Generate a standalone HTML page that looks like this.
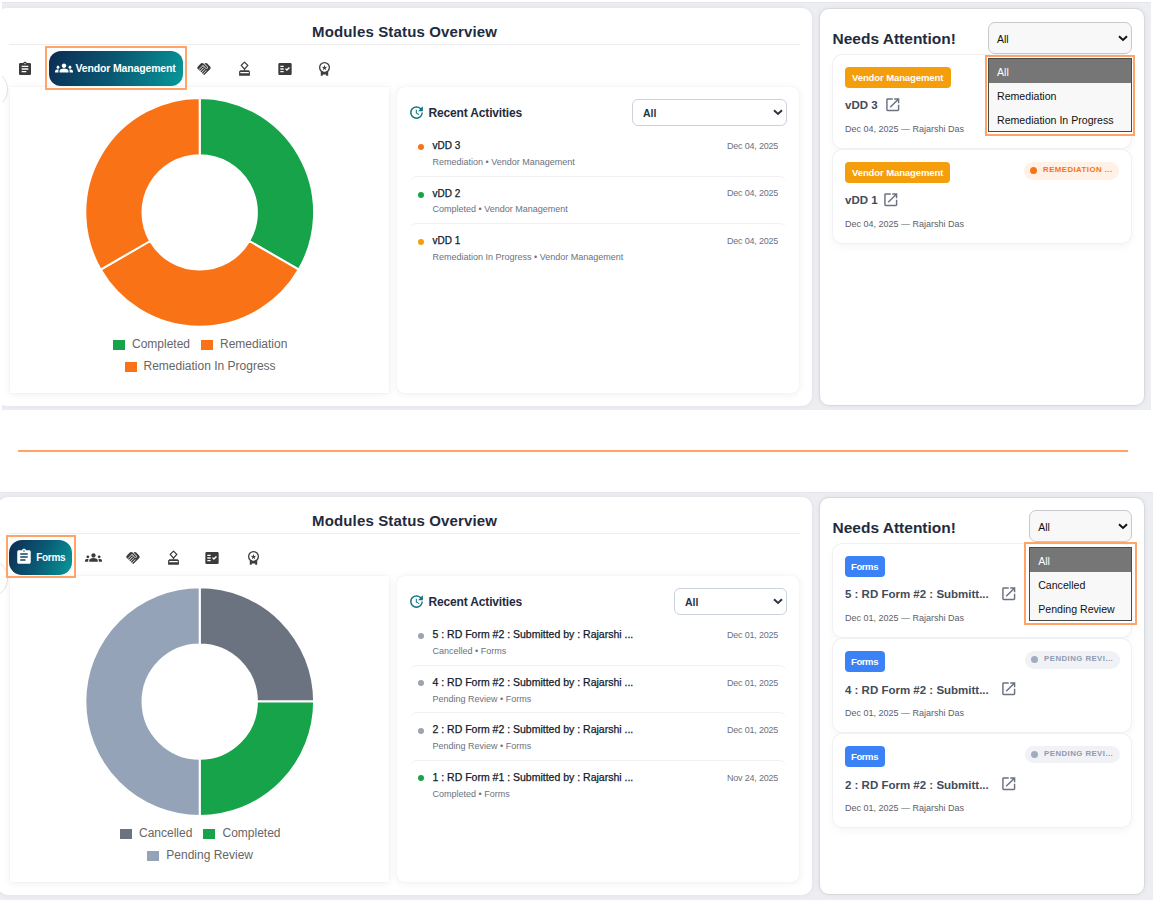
<!DOCTYPE html>
<html><head><meta charset="utf-8"><title>Modules Status Overview</title>
<style>
*{box-sizing:border-box;margin:0;padding:0}
html,body{width:1153px;height:900px;overflow:hidden;background:#fff;font-family:"Liberation Sans",Arial,sans-serif;color:#1e2a3c}
.abs{position:absolute}
.sec{position:absolute;left:0;width:1153px;height:420px}
.gray{position:absolute;background:#edeef2;box-shadow:inset 0 1px 1px rgba(0,0,0,.035)}
.card{position:absolute;background:#fff;border-radius:10px;box-shadow:0 0 5px rgba(40,40,80,.07)}
.title{position:absolute;font-weight:700;font-size:15px;letter-spacing:.15px;color:#1f2b3e;white-space:nowrap;line-height:1}
.divider{position:absolute;left:9px;width:791px;height:1px;background:#ececef}
.ico{position:absolute;fill:#3b3b3b}
.selbtn{position:absolute;border-radius:12px;background:linear-gradient(115deg,#0c2b52 0%,#0a5a74 50%,#079a9b 100%);color:#fff;font-weight:700;font-size:10.5px;letter-spacing:-.15px;white-space:nowrap}
.outline{position:absolute;border:2px solid #ffa466;z-index:5}
.chartbox{position:absolute;background:#fff;border-radius:0;box-shadow:0 0 1px rgba(0,0,0,.10),0 1px 8px rgba(0,0,0,.065)}
.legend{position:absolute;font-family:"Liberation Sans",Arial,sans-serif;font-size:12px;color:#666;white-space:nowrap;line-height:1}
.lbox{position:absolute;width:12px;height:10px}
.panel{position:absolute;background:#fff;border-radius:7px;box-shadow:0 0 1px rgba(0,0,0,.10),0 1px 8px rgba(0,0,0,.065)}
.ptitle{position:absolute;font-weight:700;font-size:12px;letter-spacing:-.16px;color:#1f2b3e;white-space:nowrap;line-height:1}
.sel{position:absolute;border:1px solid #cbd2dc;border-radius:6px;background:#fff}
.sel .v{position:absolute;left:10px;font-weight:700;font-size:10.5px;color:#2a3342;line-height:1}
.row{position:absolute;left:409px;width:378px;height:30px;border-top:1px solid #f1f1f3;border-radius:8px 8px 0 0}
.dot{position:absolute;width:6px;height:6px;border-radius:50%}
.rt{position:absolute;font-size:10px;color:#111a2b;-webkit-text-stroke:.25px #111a2b;white-space:nowrap;line-height:1}
.rs{position:absolute;font-size:9px;color:#6b7280;white-space:nowrap;line-height:1}
.rd{position:absolute;font-size:9px;letter-spacing:-.2px;color:#6b7280;white-space:nowrap;line-height:1;text-align:right;margin-top:-.7px}
.na{position:absolute;font-weight:700;font-size:15.5px;color:#1f2b3e;white-space:nowrap;line-height:1}
.nsel{position:absolute;border:1px solid #c9c9cc;border-radius:7px;background:#f8f8f8}
.nsel .v{position:absolute;left:8px;font-size:10.5px;color:#111;line-height:1}
.icard{position:absolute;left:833px;width:298px;background:#fff;border-radius:9px;box-shadow:0 0 0 1px #f1f1f4,0 4px 10px rgba(0,0,0,.045)}
.badge{position:absolute;border-radius:4px;color:#fff;font-weight:700;font-size:9.5px;white-space:nowrap;line-height:1;letter-spacing:-.1px}
.ct{position:absolute;font-weight:700;font-size:11.5px;color:#434b5a;white-space:nowrap;line-height:1}
.cd{position:absolute;font-size:9px;color:#5b616c;white-space:nowrap;line-height:1}
.pill{position:absolute;border-radius:9px;font-weight:700;font-size:7.8px;letter-spacing:.45px;white-space:nowrap;line-height:1}
.dd{position:absolute;background:#f8f8f8;border:1px solid #4a4a4a}
.dd div{position:absolute;left:0;right:0;height:24px;font-size:10.6px;color:#111;line-height:1}
.dd div span{position:absolute;left:8px;top:8px}
.dd .hl{background:#767676;color:#fff}
</style></head><body>

<!-- ================= TOP SECTION ================= -->
<div class="sec" style="top:0">
  <div class="gray" style="left:2px;top:2px;width:1149px;height:408px;overflow:hidden">
    <div class="card" style="left:-5px;top:6px;width:815px;height:398px"></div>
    <div class="card" style="left:817px;top:6px;width:326px;height:398px;border:1px solid #d9d9dc"></div>
  </div>

  <div class="abs" style="left:2px;top:60px;width:20px;height:60px;overflow:hidden"><div class="abs" style="left:-30.4px;top:11.3px;width:36.4px;height:36.4px;border-radius:50%;background:#fff;border:1px solid #e4e4e6;box-shadow:0 0 2px rgba(0,0,0,.04)"></div></div>
  <div class="title" style="left:312px;top:23.5px">Modules Status Overview</div>
  <div class="divider" style="top:44px"></div>

  <!-- tab icons row -->
  <svg class="ico" style="left:16.5px;top:61px" width="16" height="16" viewBox="0 0 24 24"><path d="M19 3h-4.18C14.4 1.84 13.3 1 12 1s-2.4.84-2.82 2H5c-1.1 0-2 .9-2 2v14c0 1.1.9 2 2 2h14c1.1 0 2-.9 2-2V5c0-1.1-.9-2-2-2zm-7 0c.55 0 1 .45 1 1s-.45 1-1 1-1-.45-1-1 .45-1 1-1zm2 14H7v-2h7v2zm3-4H7v-2h10v2zm0-4H7V7h10v2z"/></svg>
  <div class="outline" style="left:45px;top:46px;width:142px;height:44px"></div>
  <div class="selbtn" style="left:49px;top:51px;width:134px;height:35px">
    <svg class="abs" style="left:6px;top:7.5px;fill:#fff" width="18" height="18" viewBox="0 0 24 24"><path d="M12 12.75c1.63 0 3.07.39 4.24.9 1.08.48 1.76 1.56 1.76 2.73V18H6v-1.61c0-1.18.68-2.26 1.76-2.73 1.17-.52 2.61-.91 4.24-.91zM4 13c1.1 0 2-.9 2-2s-.9-2-2-2-2 .9-2 2 .9 2 2 2zm1.13 1.1c-.37-.06-.74-.1-1.13-.1-.99 0-1.93.21-2.78.58C.48 14.9 0 15.62 0 16.43V18h4.5v-1.61c0-.83.23-1.61.63-2.29zM20 13c1.1 0 2-.9 2-2s-.9-2-2-2-2 .9-2 2 .9 2 2 2zm4 3.43c0-.81-.48-1.53-1.22-1.85-.85-.37-1.79-.58-2.78-.58-.39 0-.76.04-1.13.1.4.68.63 1.46.63 2.29V18H24v-1.57zM12 6c1.66 0 3 1.34 3 3s-1.34 3-3 3-3-1.34-3-3 1.34-3 3-3z"/></svg>
    <span class="abs" style="left:26.5px;top:10.5px">Vendor Management</span>
  </div>
  <svg class="ico" style="left:196px;top:61px" width="16" height="16" viewBox="0 0 24 24"><path d="M16.48 10.41c-.39.39-1.04.39-1.43 0l-4.47-4.46-7.05 7.04-.66-.63c-1.17-1.17-1.17-3.07 0-4.24l4.24-4.24c1.17-1.17 3.07-1.17 4.24 0L16.48 9c.39.39.39 1.02 0 1.41zm.7-2.12c.78.78.78 2.05 0 2.83-1.27 1.27-2.61.22-2.83 0l-3.76-3.76-5.57 5.57c-.39.39-.39 1.02 0 1.41.39.39 1.02.39 1.42 0l4.62-4.62.71.71-4.62 4.62c-.39.39-.39 1.02 0 1.41.39.39 1.02.39 1.42 0l4.62-4.62.71.71-4.62 4.62c-.39.39-.39 1.02 0 1.41.39.39 1.02.39 1.41 0l4.62-4.62.71.71-4.62 4.62c-.39.39-.39 1.02 0 1.41.39.39 1.02.39 1.41 0l8.32-8.34c1.17-1.17 1.17-3.07 0-4.24l-4.24-4.24c-1.15-1.15-3.01-1.17-4.18-.06l4.47 4.47z"/></svg>
  <svg class="abs" style="left:234px;top:59px" width="22" height="20" viewBox="0 0 22 20"><path d="M10.5 3.1L13.8 6.4L10.5 10.1L7.2 6.4Z" fill="none" stroke="#3b3b3b" stroke-width="1.3" stroke-linejoin="round"/><rect x="9.9" y="9.8" width="1.2" height="1.6" fill="#3b3b3b"/><path fill-rule="evenodd" fill="#3b3b3b" d="M6.4 11.2H14.7L15.9 12.4V16.8H5.1V12.4ZM6.3 13.1V14.3H14.8V13.1Z"/></svg>
  <svg class="ico" style="left:276.5px;top:61px" width="16" height="16" viewBox="0 0 24 24"><path fill-rule="evenodd" d="M20 3H4c-1.1 0-2 .9-2 2v14c0 1.1.9 2 2 2h16c1.1 0 2-.9 2-2V5c0-1.1-.9-2-2-2zM10 17H5v-2h5v2zm0-4H5v-2h5v2zm0-4H5V7h5v2zm4.82 6L12 12.16l1.41-1.41 1.41 1.42L17.99 9l1.42 1.42L14.82 15z"/></svg>
  <svg class="abs" style="left:314px;top:59px" width="22" height="20" viewBox="0 0 22 20"><circle cx="10.5" cy="8.5" r="4.85" fill="none" stroke="#3b3b3b" stroke-width="1.3"/><polygon points="10.50,5.80 11.15,7.91 13.35,7.87 11.55,9.14 12.26,11.23 10.50,9.90 8.74,11.23 9.45,9.14 7.65,7.87 9.85,7.91" fill="#3b3b3b"/><path fill="#3b3b3b" d="M6.8 12.2H8.7V13.6H12.2V12.2H14.2V16.7H12.2V15.6H8.7V16.7H6.8Z"/></svg>

  <!-- chart -->
  <div class="chartbox" style="left:10px;top:86.5px;width:379px;height:306.5px">
    <svg class="abs" style="left:0;top:0" width="380" height="307" viewBox="0 0 380 307">
      <g stroke="#fff" stroke-width="2" stroke-linejoin="round" transform="translate(-0.3,-0.6)">
      <path fill="#16a34a" d="M190.00 11.60A114.4 114.4 0 0 1 289.07 183.20L239.54 154.60A57.2 57.2 0 0 0 190.00 68.80Z"/>
      <path fill="#f97316" d="M289.07 183.20A114.4 114.4 0 0 1 90.93 183.20L140.46 154.60A57.2 57.2 0 0 0 239.54 154.60Z"/>
      <path fill="#f97316" d="M90.93 183.20A114.4 114.4 0 0 1 190.00 11.60L190.00 68.80A57.2 57.2 0 0 0 140.46 154.60Z"/>
      </g>
    </svg>
  </div>
  <div class="lbox" style="left:113px;top:340px;background:#16a34a"></div>
  <div class="legend" style="left:132px;top:338px">Completed</div>
  <div class="lbox" style="left:201px;top:340px;background:#f97316"></div>
  <div class="legend" style="left:220px;top:338px">Remediation</div>
  <div class="lbox" style="left:124.5px;top:362px;background:#f97316"></div>
  <div class="legend" style="left:143.5px;top:360px">Remediation In Progress</div>

  <!-- recent activities -->
  <div class="panel" style="left:397px;top:86.5px;width:401.5px;height:306.5px"></div>
  <svg class="abs" style="left:408.3px;top:104.2px;fill:#0f7580" width="17" height="17" viewBox="0 0 24 24"><path d="M21 10.12h-6.78l2.74-2.82c-2.73-2.7-7.15-2.8-9.88-.1a6.880 6.880 0 0 0 0 9.79 7.020 7.020 0 0 0 9.88 0C18.32 15.65 19 14.08 19 12.1h2c0 1.98-.88 4.55-2.64 6.29-3.51 3.48-9.21 3.48-12.72 0-3.5-3.47-3.53-9.11-.02-12.58a8.987 8.987 0 0 1 12.65 0L21 3v7.12zM12.5 8v4.25l3.5 2.08-.72 1.21L11 13V8h1.5z"/></svg>
  <div class="ptitle" style="left:428.5px;top:107.3px">Recent Activities</div>
  <div class="sel" style="left:632px;top:99px;width:155px;height:27px">
    <span class="v" style="top:8px">All</span>
    <svg class="abs" style="left:140px;top:9px" width="10" height="7" viewBox="0 0 10 7"><path d="M1 1.2l4 3.8 4-3.8" fill="none" stroke="#2a3342" stroke-width="1.9"/></svg>
  </div>

  <div class="row" style="top:176px"></div>
  <div class="row" style="top:223px"></div>
  <div class="dot" style="left:418px;top:143.8px;background:#f97316"></div>
  <div class="rt" style="left:432.5px;top:141px">vDD 3</div>
  <div class="rs" style="left:432.5px;top:158px">Remediation • Vendor Management</div>
  <div class="rd" style="left:727px;top:143px">Dec 04, 2025</div>
  <div class="dot" style="left:418px;top:191.5px;background:#16a34a"></div>
  <div class="rt" style="left:432.5px;top:189px">vDD 2</div>
  <div class="rs" style="left:432.5px;top:205px">Completed • Vendor Management</div>
  <div class="rd" style="left:727px;top:190px">Dec 04, 2025</div>
  <div class="dot" style="left:418px;top:238.5px;background:#f59e0b"></div>
  <div class="rt" style="left:432.5px;top:236px">vDD 1</div>
  <div class="rs" style="left:432.5px;top:252.5px">Remediation In Progress • Vendor Management</div>
  <div class="rd" style="left:727px;top:238px">Dec 04, 2025</div>

  <!-- needs attention -->
  <div class="na" style="left:832.5px;top:31px">Needs Attention!</div>
  <div class="nsel" style="left:988px;top:21.5px;width:143.5px;height:32px">
    <span class="v" style="top:11px">All</span>
    <svg class="abs" style="left:129px;top:12px" width="10" height="7" viewBox="0 0 10 7"><path d="M1 1.2l4 3.8 4-3.8" fill="none" stroke="#111" stroke-width="1.9"/></svg>
  </div>
  <div class="icard" style="top:55px;height:93px"></div>
  <div class="badge" style="left:845px;top:67px;width:106px;height:21px;background:#f59e0b"><span class="abs" style="left:7px;top:6px">Vendor Management</span></div>
  <div class="ct" style="left:845px;top:99.5px">vDD 3</div>
  <svg class="abs" style="left:883.5px;top:95.6px;fill:#6b7280" width="17.5" height="17.5" viewBox="0 0 24 24"><path d="M19 19H5V5h7V3H5a2 2 0 0 0-2 2v14a2 2 0 0 0 2 2h14c1.1 0 2-.9 2-2v-7h-2v7zM14 3v2h3.59l-9.83 9.83 1.41 1.41L19 6.41V10h2V3h-7z"/></svg>
  <div class="cd" style="left:845px;top:125px">Dec 04, 2025 — Rajarshi Das</div>

  <div class="icard" style="top:150px;height:93px"></div>
  <div class="badge" style="left:845px;top:162px;width:105px;height:21px;background:#f59e0b"><span class="abs" style="left:7px;top:6px">Vendor Management</span></div>
  <div class="pill" style="left:1024.1px;top:162.2px;width:94.5px;height:17.4px;background:#fff1e5;color:#f97316"><span class="dot abs" style="left:6px;top:4.8px;width:7px;height:7px;background:#f97316"></span><span class="abs" style="left:19px;top:4px">REMEDIATION ...</span></div>
  <div class="ct" style="left:845px;top:194.5px">vDD 1</div>
  <svg class="abs" style="left:882.4px;top:190.6px;fill:#6b7280" width="17.5" height="17.5" viewBox="0 0 24 24"><path d="M19 19H5V5h7V3H5a2 2 0 0 0-2 2v14a2 2 0 0 0 2 2h14c1.1 0 2-.9 2-2v-7h-2v7zM14 3v2h3.59l-9.83 9.83 1.41 1.41L19 6.41V10h2V3h-7z"/></svg>
  <div class="cd" style="left:845px;top:220px">Dec 04, 2025 — Rajarshi Das</div>

  <!-- open dropdown -->
  <div class="outline" style="left:985px;top:55px;width:150px;height:81px"></div>
  <div class="dd" style="left:988px;top:57.8px;width:144px;height:74px">
    <div class="hl" style="top:0"><span>All</span></div>
    <div style="top:24px"><span>Remediation</span></div>
    <div style="top:48px"><span>Remediation In Progress</span></div>
  </div>
</div>

<div class="abs" style="left:18px;top:450px;width:1110px;height:2px;background:#ffa466"></div>
<!-- ================= BOTTOM SECTION ================= -->
<div class="sec" style="top:489px">
  <div class="gray" style="left:0;top:2.8px;width:1153px;height:420px;overflow:hidden">
    <div class="card" style="left:-2.2px;top:5.2px;width:814px;height:397.8px"></div>
    <div class="card" style="left:819px;top:5.2px;width:326px;height:398px;border:1px solid #d9d9dc"></div>
  </div>

  <div class="abs" style="left:-28.4px;top:71.3px;width:36.4px;height:36.4px;border-radius:50%;background:#fff;border:1px solid #e4e4e6;box-shadow:0 0 2px rgba(0,0,0,.04)"></div>
  <div class="title" style="left:312px;top:23.5px">Modules Status Overview</div>
  <div class="divider" style="top:44.4px"></div>

  <div class="outline" style="left:6.2px;top:46.3px;width:69.7px;height:43px"></div>
  <div class="selbtn" style="left:9px;top:50.8px;width:63px;height:34.8px;border-radius:13px">
    <svg class="abs" style="left:5.75px;top:8.3px;fill:#fff" width="18" height="18" viewBox="0 0 24 24"><path d="M19 3h-4.18C14.4 1.84 13.3 1 12 1s-2.4.84-2.82 2H5c-1.1 0-2 .9-2 2v14c0 1.1.9 2 2 2h14c1.1 0 2-.9 2-2V5c0-1.1-.9-2-2-2zm-7 0c.55 0 1 .45 1 1s-.45 1-1 1-1-.45-1-1 .45-1 1-1zm2 14H7v-2h7v2zm3-4H7v-2h10v2zm0-4H7V7h10v2z"/></svg>
    <span class="abs" style="left:27.2px;top:12px;font-size:10px;letter-spacing:-.3px">Forms</span>
  </div>
  <svg class="ico" style="left:84.8px;top:60.2px" width="17" height="17" viewBox="0 0 24 24"><path d="M12 12.75c1.63 0 3.07.39 4.24.9 1.08.48 1.76 1.56 1.76 2.73V18H6v-1.61c0-1.18.68-2.26 1.76-2.73 1.17-.52 2.61-.91 4.24-.91zM4 13c1.1 0 2-.9 2-2s-.9-2-2-2-2 .9-2 2 .9 2 2 2zm1.13 1.1c-.37-.06-.74-.1-1.13-.1-.99 0-1.93.21-2.78.58C.48 14.9 0 15.62 0 16.43V18h4.5v-1.61c0-.83.23-1.61.63-2.29zM20 13c1.1 0 2-.9 2-2s-.9-2-2-2-2 .9-2 2 .9 2 2 2zm4 3.43c0-.81-.48-1.53-1.22-1.85-.85-.37-1.79-.58-2.78-.58-.39 0-.76.04-1.13.1.4.68.63 1.46.63 2.29V18H24v-1.57zM12 6c1.66 0 3 1.34 3 3s-1.34 3-3 3-3-1.34-3-3 1.34-3 3-3z"/></svg>
  <svg class="ico" style="left:125px;top:61px" width="16" height="16" viewBox="0 0 24 24"><path d="M16.48 10.41c-.39.39-1.04.39-1.43 0l-4.47-4.46-7.05 7.04-.66-.63c-1.17-1.17-1.17-3.07 0-4.24l4.24-4.24c1.17-1.17 3.07-1.17 4.24 0L16.48 9c.39.39.39 1.02 0 1.41zm.7-2.12c.78.78.78 2.05 0 2.83-1.27 1.27-2.61.22-2.83 0l-3.76-3.76-5.57 5.57c-.39.39-.39 1.02 0 1.41.39.39 1.02.39 1.42 0l4.62-4.62.71.71-4.62 4.62c-.39.39-.39 1.02 0 1.41.39.39 1.02.39 1.42 0l4.62-4.62.71.71-4.62 4.62c-.39.39-.39 1.02 0 1.41.39.39 1.02.39 1.41 0l4.62-4.62.71.71-4.62 4.62c-.39.39-.39 1.02 0 1.41.39.39 1.02.39 1.41 0l8.32-8.34c1.17-1.17 1.17-3.07 0-4.24l-4.24-4.24c-1.15-1.15-3.01-1.17-4.18-.06l4.47 4.47z"/></svg>
  <svg class="abs" style="left:162.5px;top:59px" width="22" height="20" viewBox="0 0 22 20"><path d="M10.5 3.1L13.8 6.4L10.5 10.1L7.2 6.4Z" fill="none" stroke="#3b3b3b" stroke-width="1.3" stroke-linejoin="round"/><rect x="9.9" y="9.8" width="1.2" height="1.6" fill="#3b3b3b"/><path fill-rule="evenodd" fill="#3b3b3b" d="M6.4 11.2H14.7L15.9 12.4V16.8H5.1V12.4ZM6.3 13.1V14.3H14.8V13.1Z"/></svg>
  <svg class="ico" style="left:204.1px;top:61px" width="16" height="16" viewBox="0 0 24 24"><path fill-rule="evenodd" d="M20 3H4c-1.1 0-2 .9-2 2v14c0 1.1.9 2 2 2h16c1.1 0 2-.9 2-2V5c0-1.1-.9-2-2-2zM10 17H5v-2h5v2zm0-4H5v-2h5v2zm0-4H5V7h5v2zm4.82 6L12 12.16l1.41-1.41 1.41 1.42L17.99 9l1.42 1.42L14.82 15z"/></svg>
  <svg class="abs" style="left:242.8px;top:59px" width="22" height="20" viewBox="0 0 22 20"><circle cx="10.5" cy="8.5" r="4.85" fill="none" stroke="#3b3b3b" stroke-width="1.3"/><polygon points="10.50,5.80 11.15,7.91 13.35,7.87 11.55,9.14 12.26,11.23 10.50,9.90 8.74,11.23 9.45,9.14 7.65,7.87 9.85,7.91" fill="#3b3b3b"/><path fill="#3b3b3b" d="M6.8 12.2H8.7V13.6H12.2V12.2H14.2V16.7H12.2V15.6H8.7V16.7H6.8Z"/></svg>

  <div class="chartbox" style="left:10px;top:86.5px;width:379px;height:306.5px">
    <svg class="abs" style="left:0;top:0" width="380" height="307" viewBox="0 0 380 307">
      <g stroke="#fff" stroke-width="2" stroke-linejoin="round" transform="translate(-0.3,-0.4)">
      <path fill="#6b7280" d="M190.00 11.60A114.4 114.4 0 0 1 304.40 126.00L247.20 126.00A57.2 57.2 0 0 0 190.00 68.80Z"/>
      <path fill="#16a34a" d="M304.40 126.00A114.4 114.4 0 0 1 190.00 240.40L190.00 183.20A57.2 57.2 0 0 0 247.20 126.00Z"/>
      <path fill="#94a3b8" d="M190.00 240.40A114.4 114.4 0 0 1 190.00 11.60L190.00 68.80A57.2 57.2 0 0 0 190.00 183.20Z"/>
      </g>
    </svg>
  </div>
  <div class="lbox" style="left:119.8px;top:340.1px;background:#6b7280"></div>
  <div class="legend" style="left:139px;top:338px">Cancelled</div>
  <div class="lbox" style="left:203.2px;top:340.1px;background:#16a34a"></div>
  <div class="legend" style="left:222.5px;top:338px">Completed</div>
  <div class="lbox" style="left:147px;top:361.9px;background:#94a3b8"></div>
  <div class="legend" style="left:166.3px;top:360px">Pending Review</div>

  <div class="panel" style="left:397px;top:86.5px;width:401.5px;height:306.5px"></div>
  <svg class="abs" style="left:408.3px;top:104.2px;fill:#0f7580" width="17" height="17" viewBox="0 0 24 24"><path d="M21 10.12h-6.78l2.74-2.82c-2.73-2.7-7.15-2.8-9.88-.1a6.880 6.880 0 0 0 0 9.79 7.020 7.020 0 0 0 9.88 0C18.32 15.65 19 14.08 19 12.1h2c0 1.98-.88 4.55-2.64 6.29-3.51 3.48-9.21 3.48-12.72 0-3.5-3.47-3.53-9.11-.02-12.58a8.987 8.987 0 0 1 12.65 0L21 3v7.12zM12.5 8v4.25l3.5 2.08-.72 1.21L11 13V8h1.5z"/></svg>
  <div class="ptitle" style="left:428.5px;top:107.3px">Recent Activities</div>
  <div class="sel" style="left:674px;top:99px;width:113px;height:27px">
    <span class="v" style="top:8px">All</span>
    <svg class="abs" style="left:98px;top:9px" width="10" height="7" viewBox="0 0 10 7"><path d="M1 1.2l4 3.8 4-3.8" fill="none" stroke="#2a3342" stroke-width="1.9"/></svg>
  </div>
  <div class="row" style="top:176px"></div>
  <div class="row" style="top:223.2px"></div>
  <div class="row" style="top:271px"></div>
  <div class="dot" style="left:418.3px;top:143.8px;background:#9ca3af"></div>
  <div class="rt" style="left:432.5px;top:140.3px;font-size:10.5px;">5 : RD Form #2 : Submitted by : Rajarshi ...</div>
  <div class="rs" style="left:432.5px;top:158.0px">Cancelled • Forms</div>
  <div class="rd" style="left:727px;top:143.0px">Dec 01, 2025</div>
  <div class="dot" style="left:418.3px;top:191.3px;background:#9ca3af"></div>
  <div class="rt" style="left:432.5px;top:187.7px;font-size:10.5px;">4 : RD Form #2 : Submitted by : Rajarshi ...</div>
  <div class="rs" style="left:432.5px;top:205.5px">Pending Review • Forms</div>
  <div class="rd" style="left:727px;top:190.5px">Dec 01, 2025</div>
  <div class="dot" style="left:418.3px;top:238.8px;background:#9ca3af"></div>
  <div class="rt" style="left:432.5px;top:235.2px;font-size:10.5px;">2 : RD Form #2 : Submitted by : Rajarshi ...</div>
  <div class="rs" style="left:432.5px;top:253.0px">Pending Review • Forms</div>
  <div class="rd" style="left:727px;top:238.0px">Dec 01, 2025</div>
  <div class="dot" style="left:418.3px;top:286.3px;background:#16a34a"></div>
  <div class="rt" style="left:432.5px;top:282.7px;font-size:10.5px;">1 : RD Form #1 : Submitted by : Rajarshi ...</div>
  <div class="rs" style="left:432.5px;top:300.5px">Completed • Forms</div>
  <div class="rd" style="left:727px;top:285.5px">Nov 24, 2025</div>

  <div class="na" style="left:832.5px;top:31px">Needs Attention!</div>
  <div class="nsel" style="left:1029.2px;top:21.4px;width:102.5px;height:31.5px">
    <span class="v" style="top:11px">All</span>
    <svg class="abs" style="left:88px;top:12px" width="10" height="7" viewBox="0 0 10 7"><path d="M1 1.2l4 3.8 4-3.8" fill="none" stroke="#111" stroke-width="1.9"/></svg>
  </div>

  <div class="icard" style="top:55px;height:92.5px"></div>
  <div class="badge" style="left:845px;top:67.3px;width:40px;height:20.5px;background:#3b82f6"><span class="abs" style="left:6px;top:6px;letter-spacing:-.4px">Forms</span></div>
  <div class="ct" style="left:845px;top:99.5px">5 : RD Form #2 : Submitt...</div>
  <svg class="abs" style="left:1000.3px;top:95.6px;fill:#6b7280" width="17.5" height="17.5" viewBox="0 0 24 24"><path d="M19 19H5V5h7V3H5a2 2 0 0 0-2 2v14a2 2 0 0 0 2 2h14c1.1 0 2-.9 2-2v-7h-2v7zM14 3v2h3.59l-9.83 9.83 1.41 1.41L19 6.41V10h2V3h-7z"/></svg>
  <div class="cd" style="left:845px;top:125px">Dec 01, 2025 — Rajarshi Das</div>

  <div class="icard" style="top:150px;height:92.5px"></div>
  <div class="badge" style="left:845px;top:162.3px;width:40px;height:20.5px;background:#3b82f6"><span class="abs" style="left:6px;top:6px;letter-spacing:-.4px">Forms</span></div>
  <div class="pill" style="left:1025px;top:162.2px;width:94.5px;height:17.4px;background:#f1f2f5;color:#8e9ab0"><span class="dot abs" style="left:6px;top:4.8px;width:7px;height:7px;background:#a0acc0"></span><span class="abs" style="left:19.1px;top:4px">PENDING REVI...</span></div>
  <div class="ct" style="left:845px;top:195.5px">4 : RD Form #2 : Submitt...</div>
  <svg class="abs" style="left:1000.3px;top:190.6px;fill:#6b7280" width="17.5" height="17.5" viewBox="0 0 24 24"><path d="M19 19H5V5h7V3H5a2 2 0 0 0-2 2v14a2 2 0 0 0 2 2h14c1.1 0 2-.9 2-2v-7h-2v7zM14 3v2h3.59l-9.83 9.83 1.41 1.41L19 6.41V10h2V3h-7z"/></svg>
  <div class="cd" style="left:845px;top:220px">Dec 01, 2025 — Rajarshi Das</div>

  <div class="icard" style="top:245.4px;height:92.5px"></div>
  <div class="badge" style="left:845px;top:257.1px;width:40px;height:20.5px;background:#3b82f6"><span class="abs" style="left:6px;top:6px;letter-spacing:-.4px">Forms</span></div>
  <div class="pill" style="left:1025px;top:257.1px;width:94.5px;height:17.4px;background:#f1f2f5;color:#8e9ab0"><span class="dot abs" style="left:6px;top:4.8px;width:7px;height:7px;background:#a0acc0"></span><span class="abs" style="left:19.1px;top:4px">PENDING REVI...</span></div>
  <div class="ct" style="left:845px;top:290.5px">2 : RD Form #2 : Submitt...</div>
  <svg class="abs" style="left:1000.3px;top:285.6px;fill:#6b7280" width="17.5" height="17.5" viewBox="0 0 24 24"><path d="M19 19H5V5h7V3H5a2 2 0 0 0-2 2v14a2 2 0 0 0 2 2h14c1.1 0 2-.9 2-2v-7h-2v7zM14 3v2h3.59l-9.83 9.83 1.41 1.41L19 6.41V10h2V3h-7z"/></svg>
  <div class="cd" style="left:845px;top:315px">Dec 01, 2025 — Rajarshi Das</div>

  <div class="outline" style="left:1024.4px;top:53.2px;width:112.2px;height:83.2px"></div>
  <div class="dd" style="left:1029.2px;top:58px;width:102.8px;height:74px">
    <div class="hl" style="top:0"><span>All</span></div>
    <div style="top:24px"><span>Cancelled</span></div>
    <div style="top:48px"><span>Pending Review</span></div>
  </div>
</div>

</body></html>
